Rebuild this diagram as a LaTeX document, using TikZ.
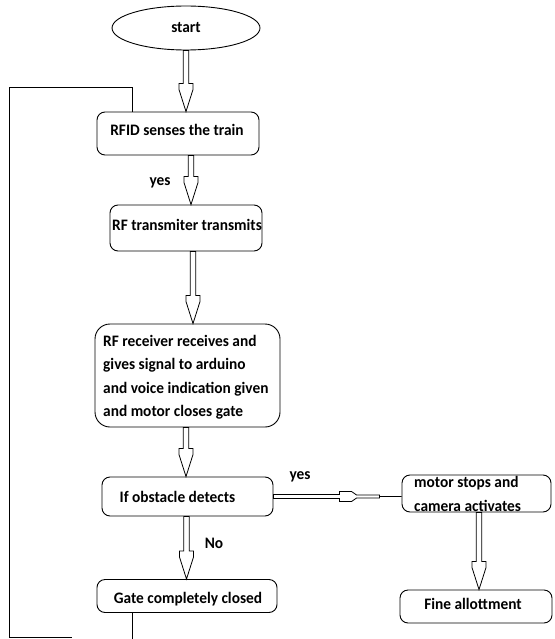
\documentclass[tikz,border=0pt]{standalone}
\usepackage{fontspec}
\setmainfont{Carlito}
\newfontfamily\flowfont{Carlito Bold}[FakeStretch=0.96]
\usetikzlibrary{shapes.geometric,calc}
\tikzset{
  box/.style={draw, rounded corners=8pt, line width=0.9pt, inner sep=0pt},
  txt/.style={font=\flowfont\fontsize{16}{23.5}\selectfont, inner sep=0pt, align=left},
  varrow/.style={draw, line width=0.8pt, fill=white,
    to path={let \p1=(\tikztostart), \p2=(\tikztotarget) in
      (\x1-2.8pt,\y1) -- (\x1-2.8pt,\y2+28pt) -- (\x1-7pt,\y2+28pt) -- (\x1-7pt,\y2+22pt)
      -- (\x1,\y2) -- (\x1+7pt,\y2+22pt) -- (\x1+7pt,\y2+28pt) -- (\x1+2.8pt,\y2+28pt)
      -- (\x1+2.8pt,\y1) -- cycle}},
  harrow/.style={draw, line width=0.8pt, fill=white,
    to path={let \p1=(\tikztostart), \p2=(\tikztotarget) in
      (\x1,\y1+2pt) -- (\x2-62pt,\y1+2pt) -- (\x2-62pt,\y1+5pt) -- (\x2-50pt,\y1+5pt)
      -- (\x2-45pt,\y1+1.5pt) -- (\x2-22pt,\y1+1.5pt) -- (\x2-22pt,\y1-1.5pt)
      -- (\x2-45pt,\y1-1.5pt) -- (\x2-50pt,\y1-5pt) -- (\x2-62pt,\y1-5pt)
      -- (\x2-62pt,\y1-2pt) -- (\x1,\y1-2pt) -- cycle
      (\x2-22pt,\y1) -- (\x2,\y1)}},
  loopline/.style={draw, line width=0.9pt},
}
\begin{document}
\begin{tikzpicture}[x=1pt,y=-1pt]
\useasboundingbox (0,0) rectangle (554,639);
% shapes
\node[draw, ellipse, line width=0.9pt, minimum width=148pt, minimum height=44pt, inner sep=0pt, txt] (start) at (186,28) {start};
\node[box, minimum width=162pt, minimum height=43pt] (rfid) at (178,133.5) {};
\node[box, minimum width=152pt, minimum height=46pt] (tx) at (186,228) {};
\node[box, rounded corners=15pt, minimum width=185pt, minimum height=103pt] (rx) at (187.5,375.5) {};
\node[box, minimum width=171pt, minimum height=39pt] (obs) at (187.5,496.5) {};
\node[box, minimum width=180pt, minimum height=33pt] (gate) at (187,596) {};
\node[box, minimum width=149pt, minimum height=37pt] (motor) at (476.5,493.5) {};
\node[box, minimum width=152pt, minimum height=33pt] (fine) at (476,606.5) {};
% texts
\node[txt] (rfidt) at (177,130) {RFID senses the train};
\node[txt] (txt2) at (187,225) {RF transmiter transmits};
\node[txt, anchor=west] (rxt) at (103,377) {RF receiver receives and\\gives signal to arduino\\and voice indication given\\and motor closes gate};
\node[txt] (obst) at (177.5,497) {If obstacle detects};
\node[txt] (gatet) at (188,599) {Gate completely closed};
\node[txt, anchor=west] (motort) at (414,494) {motor stops and\\camera activates};
\node[txt] (finet) at (473,604) {Fine allottment};
\node[txt] (yes1) at (160,183) {yes};
\node[txt] (yes2) at (300,477) {yes};
\node[txt] (no) at (214,543) {No};
% arrows
\draw[varrow] (start.south) to (rfid.north);
\draw[varrow] (191,0 |- rfid.south) to (tx.north);
\draw[varrow] (193,0 |- tx.south) to (rx.north);
\draw[varrow] (186,0 |- rx.south) to (obs.north);
\draw[varrow] (186.5,0 |- obs.south) to (gate.north);
\draw[varrow] (479,0 |- motor.south) to (fine.north);
\draw[harrow] (obs.east) to (motor.west);
% loop line
\coordinate (l1) at (132,87);
\coordinate (l2) at (9,87);
\coordinate (l3) at (9,637);
\coordinate (l4) at (72,637);
\coordinate (g1) at (132,639);
\draw[loopline] (132,0 |- rfid.north) -- (l1) -- (l2) -- (l3) -- (l4);
\draw[loopline] (132,0 |- gate.south) -- (g1);
\end{tikzpicture}
\end{document}
